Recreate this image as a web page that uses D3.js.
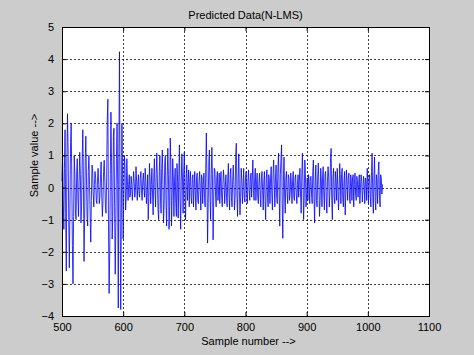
<!DOCTYPE html>
<html>
<head>
<meta charset="utf-8">
<script src="https://cdn.jsdelivr.net/npm/d3@7"></script>
<style>
html,body{margin:0;padding:0;background:#cccccc;}
svg{display:block;}
text{font-family:"Liberation Sans",Arial,sans-serif;font-size:11px;fill:#000;}
</style>
</head>
<body>
<svg id="chart" width="474" height="355"></svg>
<script>
const title = "Predicted Data(N-LMS)";
const xLabel = "Sample number -->";
const yLabel = "Sample value -->";
const xTicks = [500, 600, 700, 800, 900, 1000, 1100];
const yTicks = [-4, -3, -2, -1, 0, 1, 2, 3, 4, 5];
const startSample = 500;
const sampleValues = [
 0.2, 1.0, -0.4, -1.3, 0.6, 1.8, -0.8, -2.6, 0.9, 2.3,
 1.2, -1.0, -2.5, -0.6, 1.4, 2.0, 0.3, -1.8, -3.0, -0.9,
 1.0, 0.4, -0.8, -1.0, 0.5, 0.9, -0.3, -0.9, 0.2, 1.1,
 0.4, -1.1, -0.6, 0.8, 1.8, 0.2, -2.3, -1.0, 0.9, 1.6,
 0.3, -0.9, -1.2, 0.5, 1.0, 0.1, -0.8, -1.7, -0.4, 0.7,
 0.6, -0.2, -0.6, 0.1, 0.5, 0.3, -0.4, -0.5, 0.2, 0.6,
 0.1, -0.5, -0.3, 0.4, 0.8, -0.2, -0.9, -0.4, 0.5, 0.85,
 0.2, -0.6, -0.8, 0.3, 2.1, 2.75, -1.2, -3.3, -2.1, 0.4,
 2.35, 0.8, -1.6, -0.9, 1.6, 1.85, -0.6, -2.7, -1.2, 0.9,
 2.0, 0.1, -3.75, 1.2, 4.23, -0.5, -3.8, -1.0, 2.0, 0.4,
 -1.6, -0.2, 1.0, 0.6, -0.7, -0.3, 0.9, 0.2, -0.4, 0.1,
 0.4, -0.3, -0.2, 0.35, 0.1, -0.4, 0.0, 0.5, 0.2, -0.3,
 -0.1, 0.65, 0.2, -0.4, 0.1, 0.4, -0.2, -0.3, 0.3, 0.5,
 -0.1, -0.4, 0.2, 0.45, 0.0, -0.3, 0.6, 0.2, -0.5, -0.2,
 0.4, -1.0, -0.3, 0.75, 0.3, -0.5, 0.1, 0.6, -0.2, -0.85,
 0.3, 0.9, -0.1, -0.6, 0.4, 1.07, 0.2, -0.7, -1.0, 0.5,
 1.0, -0.3, -0.8, 0.6, 1.17, 0.1, -1.1, -0.5, 0.8, 1.0,
 -0.4, -1.2, 0.3, 1.22, 0.4, -1.3, -0.6, 1.54, 0.7, -1.2,
 -0.4, 0.9, 0.3, -0.9, 0.2, 0.6, -0.5, -0.9, 0.75, 0.2,
 -0.95, 0.4, 1.33, -0.3, -1.3, 0.2, 1.05, 0.3, -0.8, 0.5,
 1.1, -0.2, -1.0, 0.3, 0.7, -0.4, 0.1, 0.55, -0.6, 0.2,
 0.5, -0.3, -0.5, 0.3, 0.4, -0.6, 0.0, 0.5, -0.2, -0.7,
 0.3, 0.45, -0.4, -0.5, 0.2, 0.5, -0.1, -0.7, 0.4, 0.3,
 -0.5, 0.1, 0.45, -0.3, -0.6, 0.6, 1.7, 0.2, -1.73, -0.5,
 0.8, 1.17, -0.3, -1.0, 0.4, 1.25, 0.3, -1.63, -0.4, 0.6,
 0.55, -0.2, -0.6, 0.3, 0.5, -0.4, -0.1, 0.45, -0.5, 0.2,
 0.5, -0.3, -0.6, 0.1, 0.55, 0.2, -0.5, 0.0, 0.4, -0.3,
 -0.6, 0.3, 0.75, -0.2, -0.7, 0.4, 0.6, -0.3, -0.6, 0.2,
 0.7, 0.1, -0.7, -0.3, 1.0, 1.38, -0.2, -0.9, 0.3, 1.05,
 -0.1, -0.85, -0.3, 0.6, 0.2, -0.5, 0.0, 0.6, -0.3, -0.45,
 0.3, 0.5, -0.2, -0.5, 0.2, 0.55, -0.1, -0.4, 0.3, 0.45,
 -0.3, 0.2, 0.86, -0.1, -0.4, 0.3, 0.6, -0.4, 0.1, 0.45,
 -0.3, -0.5, 0.2, 0.45, -0.2, -0.6, 0.3, 0.5, -0.1, -0.7,
 0.2, 0.5, -0.4, -1.0, 0.3, 0.55, -0.3, -0.6, 0.4, 0.2,
 -0.5, 0.3, 0.65, -0.2, -0.7, 0.4, 0.86, 0.1, -0.6, 0.3,
 0.7, -0.3, -0.5, 0.6, 1.07, -0.2, -1.2, 0.4, 0.9, 1.33,
 -0.5, -1.58, 0.2, 0.95, -0.3, -0.8, 0.3, 0.5, -0.2, -0.5,
 0.4, 0.3, -0.4, -0.2, 0.45, 0.1, -0.5, 0.2, 0.5, -0.3,
 -0.4, 0.3, 0.4, -0.2, -0.5, 0.1, 0.4, -0.3, 0.2, 0.6,
 -0.2, -0.8, 0.3, 1.07, 0.2, -1.0, -0.3, 0.86, 0.4, -0.6,
 -0.2, 0.3, -0.4, 0.4, 0.1, -0.5, 0.3, 0.35, -0.2, -0.5,
 0.5, 0.86, -0.3, -1.1, 0.2, 0.7, -0.4, -0.6, 0.3, 0.76,
 0.1, -0.9, -0.4, 0.6, 0.2, -0.6, 0.3, 0.65, -0.2, -0.7,
 0.4, 0.5, -0.3, -0.8, 0.2, 0.65, 0.3, -0.6, -0.2, 0.9,
 1.22, -0.4, -1.0, 0.3, 0.6, -0.3, -0.5, 0.5, 0.2, -0.4,
 0.6, 0.1, -0.7, -0.2, 0.75, 0.3, -0.5, 0.4, 0.6, -0.3,
 -0.6, 0.2, 0.5, -0.85, -0.2, 0.55, 0.1, -0.4, 0.3, 0.45,
 -0.3, -0.5, 0.4, 0.2, -0.4, 0.3, 0.4, -0.6, 0.1, 0.45,
 -0.2, -0.4, 0.35, 0.2, -0.3, 0.1, 0.4, -0.5, 0.0, 0.4,
 0.2, -0.45, -0.1, 0.35, 0.1, -0.5, 0.3, 0.2, -0.4, 0.6,
 0.1, -0.5, 0.3, 0.4, -0.3, -0.6, 0.5, 1.07, -0.2, -0.8,
 0.3, 0.95, -0.4, -0.7, 0.4, 0.2, -0.5, 0.5, 0.8, -0.3,
 -0.6, 0.4, 0.3, -0.2, 0.1
];

const W = 474, H = 355;
const m = {left: 62, top: 27, right: 45, bottom: 39};
const iw = W - m.left - m.right, ih = H - m.top - m.bottom;

const svg = d3.select("#chart");
const x = d3.scaleLinear().domain([500, 1100]).range([0, iw]);
const y = d3.scaleLinear().domain([-4, 5]).range([ih, 0]);

const g = svg.append("g").attr("transform", `translate(${m.left},${m.top})`);

g.append("rect").attr("width", iw).attr("height", ih).attr("fill", "#fff");

// grid
const gridX = xTicks.slice(1, -1), gridY = yTicks.slice(1, -1);
g.selectAll(".gx").data(gridX).enter().append("line")
  .attr("x1", d => Math.round(x(d)) + 0.5).attr("x2", d => Math.round(x(d)) + 0.5)
  .attr("y1", 0).attr("y2", ih)
  .attr("stroke", "#000").attr("stroke-width", 1).attr("stroke-dasharray", "2,2").attr("opacity", 0.75);
g.selectAll(".gy").data(gridY).enter().append("line")
  .attr("y1", d => Math.round(y(d)) + 0.5).attr("y2", d => Math.round(y(d)) + 0.5)
  .attr("x1", 0).attr("x2", iw)
  .attr("stroke", "#000").attr("stroke-width", 1).attr("stroke-dasharray", "2,2").attr("opacity", 0.75);

// data line
const line = d3.line().x((d, i) => x(startSample + i)).y(d => y(d));
g.append("path").datum(sampleValues).attr("d", line)
  .attr("fill", "none").attr("stroke", "#0000ff").attr("stroke-width", 0.8);

// axes
const tl = 4;
const axB = d3.axisBottom(x).tickValues(xTicks).tickSize(-tl).tickPadding(tl + 3).tickFormat(d3.format("d"));
const axL = d3.axisLeft(y).tickValues(yTicks).tickSize(-tl).tickPadding(tl + 4).tickFormat(d3.format("d"));
const axT = d3.axisTop(x).tickValues(xTicks).tickSize(-tl).tickFormat("");
const axR = d3.axisRight(y).tickValues(yTicks).tickSize(-tl).tickFormat("");

function style(sel) {
  sel.select(".domain").remove();
  sel.selectAll("line").attr("stroke", "#000");
  sel.selectAll("text").attr("font-size", 11).attr("font-family", "Liberation Sans, Arial, sans-serif").attr("fill", "#000");
}
g.append("g").attr("transform", `translate(0,${ih})`).call(axB).call(style);
g.append("g").call(axL).call(style);
g.append("g").call(axT).call(style);
g.append("g").attr("transform", `translate(${iw},0)`).call(axR).call(style);

g.append("rect").attr("x", 0.5).attr("y", 0.5).attr("width", iw).attr("height", ih)
  .attr("fill", "none").attr("stroke", "#000").attr("stroke-width", 1);

// labels
svg.append("text").attr("x", m.left + iw / 2).attr("y", 19).attr("text-anchor", "middle").text(title);
svg.append("text").attr("x", m.left + iw / 2 + 3).attr("y", 345).attr("text-anchor", "middle").text(xLabel);
svg.append("text").attr("transform", `translate(38,${m.top + ih / 2 - 16}) rotate(-90)`).attr("text-anchor", "middle").text(yLabel);
</script>
</body>
</html>
